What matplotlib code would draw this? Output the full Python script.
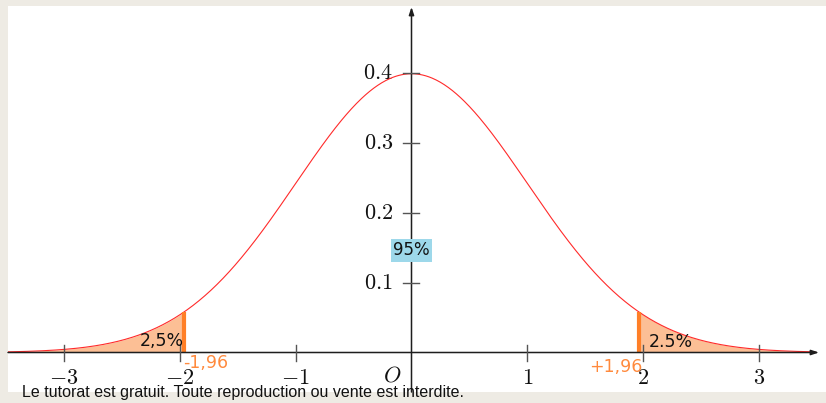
import numpy as np
import matplotlib
matplotlib.use("Agg")
import matplotlib.pyplot as plt

# ---- data ----
mu, sigma = 0.0, 1.0
z_crit = 1.96
tail_label_left = "2,5%"
tail_label_right = "2.5%"
center_label = "95%"
crit_labels = ["-1,96", "+1,96"]
x_ticks = [-3, -2, -1, 1, 2, 3]
x_tick_labels = [r"$-3$", r"$-2$", r"$-1$", r"$1$", r"$2$", r"$3$"]
y_ticks = [0.1, 0.2, 0.3, 0.4]
y_tick_labels = [r"$0.1$", r"$0.2$", r"$0.3$", r"$0.4$"]
footnote = "Le tutorat est gratuit. Toute reproduction ou vente est interdite."

W, H = 826, 403
# pixel geometry of the white panel
L_PX, R_PX, T_PX, B_PX = 8, 826, 6, 392
X0_PX, UX = 411.5, 115.83   # pixel of x=0, pixels per unit
Y0_PX, UY = 352.5, 698.75   # pixel of y=0, pixels per unit

def px(x):  # pixel x -> data x
    return (x - X0_PX) / UX

def py(y):  # pixel y -> data y
    return (Y0_PX - y) / UY

plt.rcParams['mathtext.fontset'] = 'cm'

fig = plt.figure(figsize=(W / 100, H / 100), dpi=100, facecolor='#EEEBE4')
ax = fig.add_axes([L_PX / W, (H - B_PX) / H, (R_PX - L_PX) / W, (B_PX - T_PX) / H])
ax.set_facecolor('white')
xmin, xmax = px(L_PX), px(R_PX)
ymin, ymax = py(B_PX), py(T_PX)
ax.set_xlim(xmin, xmax)
ax.set_ylim(ymin, ymax)
ax.set_xticks([])
ax.set_yticks([])
for s in ax.spines.values():
    s.set_visible(False)

def pdf(x):
    return np.exp(-0.5 * ((x - mu) / sigma) ** 2) / (sigma * np.sqrt(2 * np.pi))

xs = np.linspace(xmin, px(815), 800)
ax.plot(xs, pdf(xs), color='#FF2A2A', lw=0.8, zorder=4)

fill_col = '#FCBF95'
xl = np.linspace(xmin, -z_crit, 300)
ax.fill_between(xl, 0, pdf(xl), color=fill_col, lw=0, zorder=2)
xr = np.linspace(z_crit, px(815), 300)
ax.fill_between(xr, 0, pdf(xr), color=fill_col, lw=0, zorder=2)

orange = '#FF7F27'
for zc in (-z_crit, z_crit):
    ax.plot([zc, zc], [0, pdf(zc)], color=orange, lw=3.0, zorder=5, solid_capstyle='butt')

# axes with arrows
axis_col = '#1e1e1e'
ax.annotate('', xy=(px(819), 0), xytext=(xmin, 0),
            arrowprops=dict(arrowstyle='-|>,head_length=0.45,head_width=0.15',
                            lw=1.1, color=axis_col, shrinkA=0, shrinkB=0), zorder=6)
ax.annotate('', xy=(0, py(T_PX + 1)), xytext=(0, ymin),
            arrowprops=dict(arrowstyle='-|>,head_length=0.45,head_width=0.15',
                            lw=1.1, color=axis_col, shrinkA=0, shrinkB=0), zorder=6)

tick_col = '#555555'
for xt, lab in zip(x_ticks, x_tick_labels):
    ax.plot([xt, xt], [py(Y0_PX - 8), py(Y0_PX + 8)], color=tick_col, lw=1.0, zorder=6)
    ax.text(xt, py(378), lab, ha='center', va='center', fontsize=16, color='#111111')
for yt, lab in zip(y_ticks, y_tick_labels):
    ax.plot([px(X0_PX - 8), px(X0_PX + 8)], [yt, yt], color=tick_col, lw=1.0, zorder=6)
    ax.text(px(393), yt, lab, ha='right', va='center', fontsize=16, color='#111111')
ax.text(px(392), py(375), r"$O$", ha='center', va='center', fontsize=16, color='#111111')

sans = ['DejaVu Sans']
ax.text(px(162), py(341), tail_label_left, ha='center', va='center', fontsize=12.5,
        family=sans, color='#111111', zorder=7)
ax.text(px(671), py(342), tail_label_right, ha='center', va='center', fontsize=12.5,
        family=sans, color='#111111', zorder=7)
ax.text(px(206), py(363), crit_labels[0], ha='center', va='center', fontsize=12.5,
        family=sans, color='#FF8A3D', zorder=7)
ax.text(px(616), py(367), crit_labels[1], ha='center', va='center', fontsize=12.5,
        family=sans, color='#FF8A3D', zorder=7)
ax.text(0.0, py(250), center_label, ha='center', va='center', fontsize=12, family=sans,
        color='#111111', zorder=7,
        bbox=dict(boxstyle='square,pad=0.15', facecolor='#9DD8EA', edgecolor='none'))

fig.text(22 / W, (H - 393) / H, footnote, ha='left', va='center', fontsize=11.5,
         family=['Liberation Sans', 'DejaVu Sans'], color='#111111', zorder=10)

fig.savefig('out.png', dpi=100, facecolor=fig.get_facecolor())
